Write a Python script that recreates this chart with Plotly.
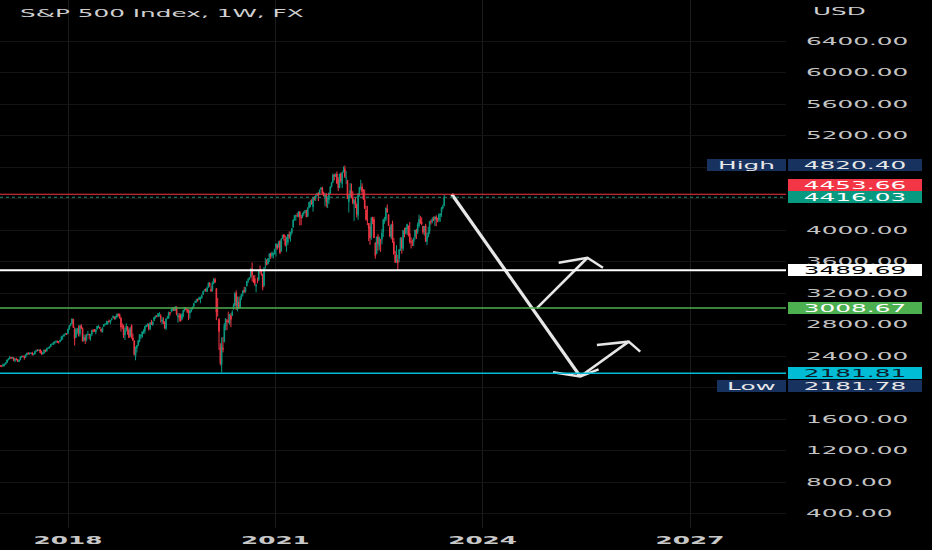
import plotly.graph_objects as go
import pandas as pd

# ---------------- weekly OHLC (S&P 500 1W) ----------------
O17 = [2251,2277,2275,2271,2295,2297,2316,2351,2367,2383,2373,2378,2344,2363,2356,2329,2349,2384,2399,2391,2382,2416,2439,2432,2433,2438,2423,2425,2459,2473,2472,2477,2441,2425,2443,2477,2461,2500,2502,2519,2549,2553,2575,2581,2588,2582,2579,2602,2642,2652,2675,2683]
H17 = [2282,2279,2277,2301,2299,2319,2352,2368,2401,2386,2390,2386,2371,2378,2361,2352,2398,2400,2405,2406,2418,2440,2447,2446,2442,2454,2432,2463,2478,2484,2480,2491,2468,2451,2480,2480,2501,2509,2520,2552,2557,2575,2582,2597,2594,2590,2605,2657,2657,2680,2695,2692]
L17 = [2245,2263,2258,2267,2268,2288,2311,2345,2358,2362,2365,2334,2322,2344,2328,2322,2348,2378,2387,2353,2380,2407,2415,2415,2428,2406,2408,2419,2457,2459,2467,2437,2417,2417,2428,2447,2459,2488,2496,2518,2544,2542,2547,2566,2566,2557,2576,2597,2605,2647,2673,2669]
C17 = [2277,2275,2271,2295,2297,2316,2351,2367,2383,2373,2378,2344,2363,2356,2329,2349,2384,2399,2391,2382,2416,2439,2432,2433,2438,2423,2425,2459,2473,2472,2477,2441,2425,2443,2477,2461,2500,2502,2519,2549,2553,2575,2581,2588,2582,2579,2602,2642,2652,2675,2683,2674]

O18 = [2684,2743,2786,2810,2867,2741,2636,2722,2745,2682,2790,2752,2594,2633,2610,2670,2675,2643,2675,2722,2725,2706,2742,2779,2763,2742,2705,2775,2797,2805,2811,2848,2827,2858,2885,2897,2872,2896,2926,2926,2882,2775,2773,2670,2726,2773,2730,2649,2790,2630,2591,2400]
H18 = [2745,2789,2818,2873,2870,2764,2755,2757,2789,2787,2802,2763,2675,2673,2680,2718,2683,2682,2732,2742,2742,2736,2779,2791,2774,2743,2763,2804,2816,2848,2841,2863,2854,2877,2916,2898,2908,2941,2940,2940,2894,2817,2797,2756,2815,2775,2746,2760,2800,2685,2601,2520]
L18 = [2683,2735,2779,2808,2759,2533,2631,2675,2648,2647,2742,2585,2585,2553,2586,2660,2612,2594,2655,2701,2707,2677,2735,2755,2742,2699,2699,2770,2790,2799,2796,2830,2803,2852,2885,2864,2864,2889,2903,2874,2710,2742,2628,2603,2710,2670,2631,2649,2621,2593,2409,2346]
C18 = [2743,2786,2810,2873,2762,2620,2732,2747,2691,2786,2752,2588,2641,2604,2656,2670,2670,2663,2728,2713,2721,2735,2779,2780,2755,2718,2760,2801,2802,2819,2840,2833,2850,2875,2902,2872,2905,2930,2914,2886,2767,2768,2659,2723,2781,2736,2633,2760,2633,2600,2417,2486]

O19 = [2498,2535,2585,2657,2644,2706,2711,2775,2798,2805,2747,2823,2796,2848,2893,2910,2899,2941,2908,2841,2841,2830,2751,2886,2886,2952,2971,2980,3017,2978,3024,2898,2907,2910,2867,2909,2981,3002,2984,2968,2944,2967,2996,3035,3078,3087,3123,3117,3143,3141,3184,3225]
H19 = [2538,2598,2675,2672,2716,2739,2776,2795,2813,2812,2830,2860,2836,2893,2911,2917,2940,2954,2932,2892,2892,2841,2876,2911,2964,2956,2996,3014,3018,3028,3028,2945,2943,2939,2941,2985,3021,3016,3002,2993,2993,3008,3027,3067,3097,3120,3128,3154,3146,3183,3226,3248]
L19 = [2444,2525,2575,2617,2631,2682,2681,2764,2775,2722,2729,2800,2785,2848,2873,2891,2898,2900,2825,2801,2805,2750,2728,2868,2872,2913,2953,2966,2972,2970,2915,2822,2840,2835,2853,2891,2964,2985,2945,2855,2874,2953,2990,3022,3072,3078,3091,3114,3070,3124,3174,3224]
C19 = [2532,2596,2671,2665,2707,2708,2776,2793,2804,2743,2822,2801,2834,2893,2907,2905,2940,2946,2881,2860,2826,2752,2873,2887,2951,2942,2990,3014,2977,3026,2932,2919,2889,2847,2926,2979,3007,2992,2962,2952,2970,2986,3023,3067,3093,3120,3110,3141,3146,3169,3221,3240]

O20 = [3248,3218,3273,3325,3248,3236,3319,3370,3258,2974,2863,2508,2291,2499,2578,2782,2846,2854,2815,2915,2913,3005,3038,3199,2994,3084,3018,3155,3192,3238,3219,3288,3356,3380,3401,3508,3370,3384,3285,3350,3367,3500,3493,3441,3296,3583,3612,3567,3653,3698,3675,3684,3694]
H20 = [3258,3282,3330,3338,3293,3347,3385,3394,3260,3137,2883,2562,2637,2641,2818,2880,2869,2964,2932,2945,2981,3068,3212,3233,3155,3155,3166,3185,3238,3280,3273,3352,3387,3399,3509,3588,3425,3429,3320,3398,3482,3550,3502,3441,3529,3646,3628,3644,3699,3712,3726,3712,3760]
L20 = [3213,3214,3264,3279,3214,3216,3315,3328,2855,2901,2478,2280,2191,2447,2578,2727,2727,2815,2797,2766,2910,2988,3032,2984,2966,3005,3001,3115,3156,3201,3205,3285,3327,3367,3401,3349,3329,3292,3209,3323,3354,3441,3419,3234,3280,3511,3553,3566,3594,3633,3648,3636,3694]
C20 = [3235,3265,3330,3295,3225,3328,3380,3338,2954,2972,2711,2305,2541,2489,2790,2875,2837,2831,2930,2864,2955,3044,3194,3041,3098,3009,3130,3185,3225,3216,3271,3351,3373,3397,3508,3427,3341,3319,3298,3348,3477,3483,3465,3270,3509,3585,3558,3638,3699,3663,3709,3703,3756]

O21 = [3764,3811,3782,3856,3732,3893,3939,3885,3842,3844,3943,3917,3969,4034,4125,4175,4185,4192,4229,4169,4168,4210,4231,4249,4173,4284,4356,4373,4296,4410,4406,4439,4461,4450,4514,4535,4474,4403,4440,4348,4385,4464,4553,4610,4699,4689,4712,4640,4537,4711,4587,4733]
H21 = [3827,3823,3861,3870,3894,3937,3950,3932,3915,3944,3983,3975,4021,4129,4191,4195,4219,4238,4239,4191,4219,4234,4249,4257,4286,4355,4372,4393,4415,4430,4441,4470,4481,4513,4546,4549,4486,4466,4466,4429,4475,4559,4608,4719,4712,4718,4744,4672,4713,4731,4740,4808]
L21 = [3663,3749,3779,3694,3725,3885,3865,3790,3723,3805,3885,3853,3944,4030,4120,4118,4163,4160,4057,4062,4151,4183,4215,4165,4165,4276,4289,4322,4233,4375,4367,4428,4368,4450,4514,4459,4428,4305,4288,4278,4329,4459,4538,4595,4630,4672,4585,4495,4531,4600,4531,4733]
C21 = [3825,3768,3841,3714,3887,3934,3907,3811,3842,3943,3913,3975,4020,4129,4185,4180,4181,4233,4174,4156,4204,4230,4247,4166,4281,4352,4370,4327,4412,4395,4437,4468,4442,4509,4535,4459,4433,4455,4357,4391,4471,4545,4605,4697,4683,4698,4595,4538,4712,4621,4726,4766]

O22 = [4778,4655,4632,4357,4431,4505,4412,4332,4364,4328,4188,4462,4541,4547,4474,4385,4255,4130,4082,4038,3920,4152,4135,3839,3701,3913,3792,3880,3884,3972,4113,4138,4269,4195,4034,3909,4084,3849,3682,3610,3619,3638,3755,3882,3765,3982,3956,4006,4053,3955,3853,3843]
H22 = [4819,4749,4632,4453,4595,4590,4490,4386,4416,4329,4466,4546,4637,4593,4521,4513,4308,4307,4082,4090,4158,4169,4168,3840,3914,3951,3918,3880,4012,4141,4167,4285,4325,4204,4062,4076,4119,3900,3736,3806,3686,3753,3905,3911,4001,4028,4034,4080,4053,4101,3907,3878]
L22 = [4662,4582,4395,4222,4414,4401,4327,4115,4279,4158,4129,4424,4507,4450,4382,4268,4119,4063,3859,3811,3876,4074,3900,3637,3693,3738,3742,3722,3818,3911,4080,4111,4218,4057,3907,3886,3838,3690,3585,3584,3492,3590,3734,3698,3735,3906,3946,3938,3918,3827,3765,3796]
C22 = [4677,4663,4398,4432,4500,4419,4349,4385,4329,4204,4463,4543,4546,4488,4392,4272,4132,4123,4024,3901,4158,4109,3901,3675,3912,3825,3899,3863,3962,4130,4145,4280,4228,4058,3924,4067,3873,3693,3586,3640,3583,3753,3901,3771,3993,3965,4026,4072,3934,3852,3845,3840]

O23 = [3853,3911,3999,3979,4054,4120,4101,4050,3992,4055,3855,3917,3983,4112,4110,4139,4134,4166,4136,4127,4190,4226,4282,4307]
H23 = [3906,4003,4016,4095,4195,4177,4160,4050,4048,4079,3964,4040,4110,4133,4163,4170,4170,4187,4154,4212,4212,4290,4322,4448]
L23 = [3795,3877,3885,3949,4030,4079,4061,3943,3929,3847,3809,3906,3950,4070,4085,4113,4049,4048,4099,4099,4103,4166,4262,4304]
C23 = [3895,3999,3973,4071,4136,4090,4079,3970,4046,3862,3917,3971,4109,4105,4138,4133,4169,4136,4124,4192,4205,4282,4299,4416.03]

week_open = O17 + O18 + O19 + O20 + O21 + O22 + O23
week_high = H17 + H18 + H19 + H20 + H21 + H22 + H23
week_low = L17 + L18 + L19 + L20 + L21 + L22 + L23
week_close = C17 + C18 + C19 + C20 + C21 + C22 + C23
week_dates = pd.date_range("2017-01-02", periods=len(week_close), freq="W-MON")

# ---------------- horizontal levels & labels ----------------
level_red = 4453.66
level_last = 4416.03
level_white = 3489.69
level_green = 3008.67
level_cyan = 2181.81
range_high = 4820.40
range_low = 2181.78

# ---------------- drawn arrows (date, price) ----------------
arrow_main_x = ["2023-07-22", "2025-05-31"]
arrow_main_y = [4453.66, 2140]
arrow_main_head_x = ["2025-01-07", "2025-05-31", "2025-09-05"]
arrow_main_head_y = [2193, 2140, 2231]
arrow_up1_x = ["2024-10-14", "2025-07-08"]
arrow_up1_y = [3008.67, 3648]
arrow_up1_head_x = ["2025-02-06", "2025-07-08", "2025-09-28"]
arrow_up1_head_y = [3585, 3648, 3521]
arrow_up2_x = ["2025-05-31", "2026-02-11"]
arrow_up2_y = [2140, 2582]
arrow_up2_head_x = ["2025-08-27", "2026-02-11", "2026-04-13"]
arrow_up2_head_y = [2540, 2582, 2455]

# ---------------- axes ----------------
x_range = ["2017-01-06 15:00", "2028-05-22 07:00"]
y_range = [215.9, 6920.6]
year_ticks = ["2018-01-01", "2021-01-01", "2024-01-01", "2027-01-01"]
year_labels = ["2018", "2021", "2024", "2027"]
price_ticks = [400, 800, 1200, 1600, 2000, 2400, 2800, 3200, 3600, 4000, 4400, 4800, 5200, 5600, 6000, 6400]
# levels hidden behind the price-scale label boxes in the reference
price_hidden = [2000, 4400, 4800]
price_labels = ["" if v in price_hidden else f"{v:.2f}" for v in price_ticks]

FONT = "DejaVu Sans"
PLOT_W = 786  # px width of plotting area

fig = go.Figure()
fig.add_trace(go.Candlestick(
    x=week_dates, open=week_open, high=week_high, low=week_low, close=week_close,
    increasing=dict(line=dict(color="#089981", width=1), fillcolor="#089981"),
    decreasing=dict(line=dict(color="#f23645", width=1), fillcolor="#f23645"),
    whiskerwidth=0, hoverinfo="skip", showlegend=False,
))

ARROW = "#e6e6e6"
for xs, ys, w in [
    (arrow_main_x, arrow_main_y, 3.2),
    (arrow_main_head_x, arrow_main_head_y, 2.5),
    (arrow_up1_x, arrow_up1_y, 2.6),
    (arrow_up1_head_x, arrow_up1_head_y, 2.5),
    (arrow_up2_x, arrow_up2_y, 2.6),
    (arrow_up2_head_x, arrow_up2_head_y, 2.5),
]:
    fig.add_trace(go.Scatter(x=xs, y=ys, mode="lines", line=dict(color=ARROW, width=w),
                             hoverinfo="skip", showlegend=False))

shapes = []
for lvl, col, wd, dash in [
    (level_red, "#f23645", 1.2, "solid"),
    (level_last, "#2a8a7a", 1, "dot"),
    (level_white, "#ffffff", 2, "solid"),
    (level_green, "#4caf50", 1.5, "solid"),
    (level_cyan, "#00bcd4", 1.5, "solid"),
]:
    shapes.append(dict(type="line", xref="paper", x0=0, x1=1, yref="y", y0=lvl, y1=lvl,
                       line=dict(color=col, width=wd, dash=dash), layer="above"))

ann = []
def box(text, y, bg, fg, x_px, w_px, yshift=0):
    ann.append(dict(xref="paper", x=x_px / PLOT_W, xanchor="left", yref="y", y=y, yanchor="middle",
                    yshift=yshift, text=text, showarrow=False, bgcolor=bg, width=w_px, height=12,
                    borderpad=0, borderwidth=0, align="center",
                    font=dict(family=FONT, size=11, color=fg)))

NAVY = "#17325f"
box("High", range_high, NAVY, "#e8e8e8", 707, 79)
box(f"{range_high:.2f}", range_high, NAVY, "#e8e8e8", 788, 134)
box(f"{level_red:.2f}", level_red, "#f23645", "#ffffff", 788, 134, yshift=9)
box(f"{level_last:.2f}", level_last, "#089981", "#ffffff", 788, 134)
box(f"{level_white:.2f}", level_white, "#ffffff", "#000000", 788, 134)
box(f"{level_green:.2f}", level_green, "#4caf50", "#ffffff", 788, 134)
box(f"{level_cyan:.2f}", level_cyan, "#00bcd4", "#0d1b2a", 788, 134)
box("Low", range_low, NAVY, "#e8e8e8", 717, 69, yshift=-13)
box(f"{range_low:.2f}", range_low, NAVY, "#e8e8e8", 788, 134, yshift=-13)

ann.append(dict(xref="paper", x=18 / PLOT_W, xanchor="left", yref="paper", y=1 - 13 / 528, yanchor="middle",
                text="S&P 500 Index, 1W, FX", showarrow=False, align="left",
                font=dict(family=FONT, size=11, color="#cfcfcf")))
ann.append(dict(xref="paper", x=812 / PLOT_W, xanchor="left", yref="paper", y=1 - 11 / 528, yanchor="middle",
                text="USD", showarrow=False, align="left", borderpad=0,
                font=dict(family=FONT, size=11, color="#cfcfcf")))

fig.update_layout(
    width=932, height=550,
    margin=dict(l=0, r=932 - PLOT_W, t=0, b=22),
    paper_bgcolor="#000000", plot_bgcolor="#000000",
    shapes=shapes, annotations=ann, showlegend=False,
    xaxis=dict(type="date", range=x_range, tickvals=year_ticks, ticktext=year_labels,
               showgrid=True, gridcolor="#1b1b1b", gridwidth=1, zeroline=False, showline=False,
               ticks="", ticklabelstandoff=4,
               tickfont=dict(family=FONT, size=11, color="#c8c8c8", weight="bold"),
               rangeslider=dict(visible=False), fixedrange=True),
    yaxis=dict(side="right", range=y_range, tickvals=price_ticks, ticktext=price_labels,
               showgrid=True, gridcolor="#141414", gridwidth=1, zeroline=False, showline=False,
               ticks="", ticklabelstandoff=19,
               tickfont=dict(family=FONT, size=11, color="#c4c4c4"), fixedrange=True),
)

stretch_js = """
document.documentElement.style.margin = '0';
document.documentElement.style.background = '#000';
document.body.style.margin = '0';
document.body.style.overflow = 'hidden';
var gd = document.getElementById('{plot_id}');
gd.querySelectorAll('svg.main-svg text').forEach(function(t){
  var x = parseFloat(t.getAttribute('x')) || 0;
  var tr = t.getAttribute('transform') || '';
  t.setAttribute('transform', tr + ' translate(' + x + ',0) scale(2.25,1) translate(' + (-x) + ',0)');
});
"""

fig.write_html("out.html", config={"displayModeBar": False, "staticPlot": True}, post_script=stretch_js)
